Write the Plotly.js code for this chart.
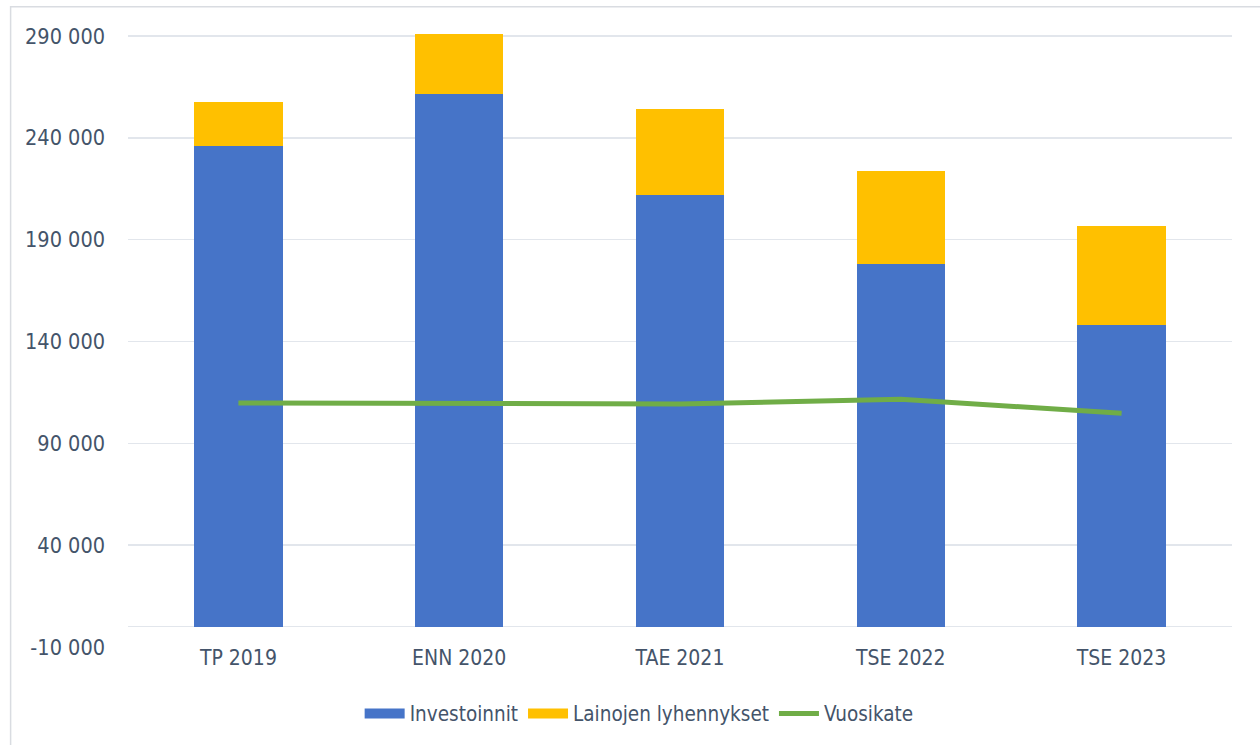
<!DOCTYPE html>
<html>
<head>
<meta charset="utf-8">
<script src="https://cdn.plot.ly/plotly-3.0.1.min.js"></script>
<style>html,body{margin:0;padding:0;background:#fff;}#chart{width:1260px;height:745px;}</style>
</head>
<body>
<div id="chart"></div>
<script>
const categories = ["TP 2019", "ENN 2020", "TAE 2021", "TSE 2022", "TSE 2023"];
const investoinnit = [235800, 261300, 212100, 178200, 148200];
const lainojenLyhennykset = [21600, 29500, 41900, 45300, 48700];
const vuosikate = [109850, 109350, 109350, 111650, 104800];
const yTickVals = [-10000, 40000, 90000, 140000, 190000, 240000, 290000];
const yTickText = ["-10 000", "40 000", "90 000", "140 000", "190 000", "240 000", "290 000"];
const seriesNames = ["Investoinnit", "Lainojen lyhennykset", "Vuosikate"];

const FONT = "'DejaVu Sans Condensed', 'Liberation Sans Narrow', sans-serif";
const TXT = "#44546A";
const BLUE = "#4674C8", YELLOW = "#FFC000", GREEN = "#70AD47";

const traces = [
  {type: "bar", name: seriesNames[0], x: categories, y: investoinnit, showlegend: false,
   marker: {color: BLUE, line: {width: 0}}},
  {type: "bar", name: seriesNames[1], x: categories, y: lainojenLyhennykset, showlegend: false,
   marker: {color: YELLOW, line: {width: 0}}},
  {type: "scatter", mode: "lines", name: seriesNames[2], x: categories, y: vuosikate, showlegend: false,
   line: {color: GREEN, width: 5, shape: "linear"}},
  // legend entries (wide swatches like the reference)
  {type: "scatter", mode: "lines", name: seriesNames[0], x: [null], y: [null],
   line: {color: BLUE, width: 13}},
  {type: "scatter", mode: "lines", name: seriesNames[1], x: [null], y: [null],
   line: {color: YELLOW, width: 13}},
  {type: "scatter", mode: "lines", name: seriesNames[2], x: [null], y: [null],
   line: {color: GREEN, width: 5}}
];

const layout = {
  width: 1260, height: 745,
  margin: {l: 127.5, r: 27.5, t: 34.3, b: 98.3, autoexpand: false},
  paper_bgcolor: "#fff", plot_bgcolor: "#fff",
  barmode: "stack", bargap: 0.6,
  font: {family: FONT, color: TXT, size: 22},
  showlegend: true,
  legend: {orientation: "h", x: 0.463, xanchor: "center", y: -0.076, yanchor: "top",
           traceorder: "normal", itemwidth: 40,
           font: {family: FONT, size: 20.5, color: TXT}, tracegroupgap: 0},
  xaxis: {type: "category", showgrid: false, showline: false, ticks: "",
          ticklabelstandoff: -4,
          tickfont: {family: FONT, size: 21, color: TXT}, fixedrange: true},
  yaxis: {range: [-10000, 291000], tickmode: "array", tickvals: yTickVals, ticktext: yTickText,
          showgrid: true, gridcolor: "#E2E6EC", gridwidth: 1.5,
          zeroline: true, zerolinecolor: "#E2E6EC", zerolinewidth: 1.5,
          showline: false, ticks: "", ticklabelstandoff: 22,
          tickfont: {family: FONT, size: 21.5, color: TXT}, fixedrange: true},
  shapes: [
    {type: "rect", xref: "paper", yref: "paper",
     x0: (10 - 127.5) / 1105, x1: (1290 - 127.5) / 1105,
     y0: -0.25, y1: 1 + (34.3 - 7) / 612.4,
     line: {color: "#D9DCE1", width: 1.5}, fillcolor: "rgba(0,0,0,0)", layer: "below"}
  ]
};

Plotly.newPlot("chart", traces, layout, {displayModeBar: false, staticPlot: true});
</script>
</body>
</html>
